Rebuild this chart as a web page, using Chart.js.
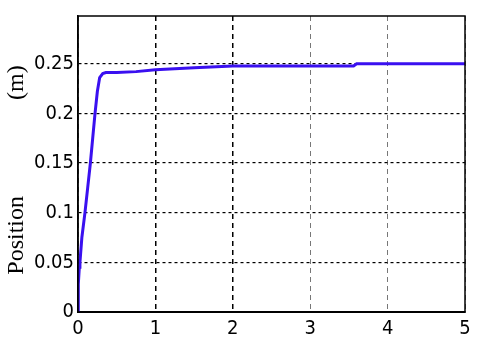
<!DOCTYPE html>
<html>
<head>
<meta charset="utf-8">
<script src="https://cdn.jsdelivr.net/npm/chart.js@4"></script>
<style>
  html, body { margin: 0; padding: 0; background: #fff; }
  #wrap { width: 482px; height: 342px; }
</style>
</head>
<body>
<div id="wrap"><canvas id="posChart"></canvas></div>
<script>
const timeVals = [0, 0.004, 0.017, 0.025, 0.05, 0.09, 0.125, 0.16, 0.19, 0.22, 0.25, 0.28, 0.32, 0.36, 0.5, 0.75, 1.0, 1.5, 2.0, 3.0, 3.56, 3.6, 4.0, 5.0];
const positionVals = [0, 0.028, 0.045, 0.05, 0.075, 0.1, 0.125, 0.15, 0.175, 0.2, 0.222, 0.236, 0.24, 0.241, 0.241, 0.242, 0.244, 0.246, 0.2477, 0.2477, 0.2477, 0.25, 0.25, 0.25];
const xTicks = [0, 1, 2, 3, 4, 5];
const yTicks = [0, 0.05, 0.1, 0.15, 0.2, 0.25];

const tickFont = { family: "'DejaVu Sans Condensed', 'Liberation Sans Narrow', sans-serif", size: 20 };

// box round the plot area (top and right sides too)
const frameBox = {
  id: "frameBox",
  afterDraw(chart) {
    const { ctx, chartArea: a } = chart;
    ctx.save();
    ctx.strokeStyle = "#000";
    ctx.lineWidth = 1.5;
    ctx.strokeRect(a.left, a.top, a.right - a.left, a.bottom - a.top);
    ctx.restore();
  },
};

new Chart(document.getElementById("posChart"), {
  type: "line",
  data: {
    datasets: [
      {
        label: "Position",
        data: timeVals.map((t, i) => ({ x: t, y: positionVals[i] })),
        borderColor: "#3a10f0",
        borderWidth: 3,
        pointRadius: 0,
        tension: 0,
        fill: false,
      },
    ],
  },
  plugins: [frameBox],
  options: {
    responsive: true,
    maintainAspectRatio: false,
    animation: false,
    layout: { padding: { top: 8, right: 17, left: 0, bottom: 0 } },
    plugins: {
      legend: { display: false },
      tooltip: { enabled: false },
    },
    scales: {
      x: {
        type: "linear",
        min: 0,
        max: 5,
        afterBuildTicks: (s) => { s.ticks = xTicks.map((v) => ({ value: v })); },
        afterFit: (s) => { s.height = 30; },
        ticks: {
          color: "#000",
          font: tickFont,
          padding: 5,
          maxRotation: 0,
          callback: (v) => String(v),
        },
        grid: {
          color: (c) => (c.tick && c.tick.value >= 3 ? "#777" : "#000"),
          lineWidth: (c) => (c.tick && c.tick.value >= 3 ? 1 : 1.5),
          drawTicks: false,
        },
        border: { display: true, color: "#000", width: 2, dash: [5, 4] },
      },
      y: {
        type: "linear",
        min: 0,
        max: 0.298,
        afterBuildTicks: (s) => { s.ticks = yTicks.map((v) => ({ value: v })); },
        afterFit: (s) => { s.width = 78; },
        ticks: {
          color: "#000",
          font: tickFont,
          padding: 4,
          callback: (v) => String(Math.round(v * 100) / 100),
        },
        grid: {
          color: "#000",
          lineWidth: 1.2,
          drawTicks: false,
        },
        border: { display: true, color: "#000", width: 1.5, dash: [3, 3] },
        title: {
          display: true,
          text: "Position                (m)  ",
          color: "#000",
          font: { family: "'Liberation Serif', 'Times New Roman', serif", size: 24 },
          padding: { top: 2, bottom: 0 },
        },
      },
    },
  },
});
</script>
</body>
</html>
